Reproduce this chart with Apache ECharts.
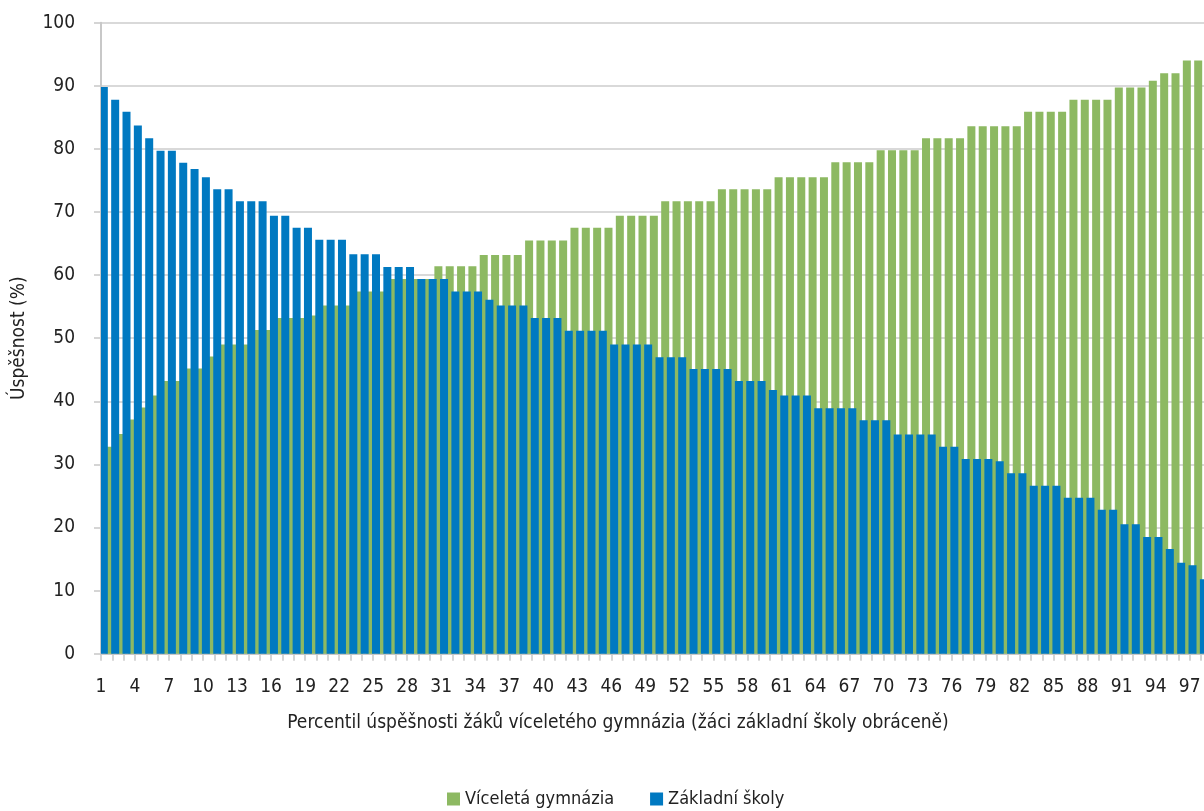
<!DOCTYPE html>
<html>
<head>
<meta charset="utf-8">
<script src="https://cdn.jsdelivr.net/npm/echarts@6/dist/echarts.min.js"></script>
<style>
html,body{margin:0;padding:0;background:#fff;}
#chart{width:1204px;height:811px;}
</style>
</head>
<body>
<div id="chart"></div>
<script>
// Percentile categories (1..99)
const percentiles = ['1','2','3','4','5','6','7','8','9','10','11','12','13','14','15','16','17','18','19','20','21','22','23','24','25','26','27','28','29','30','31','32','33','34','35','36','37','38','39','40','41','42','43','44','45','46','47','48','49','50','51','52','53','54','55','56','57','58','59','60','61','62','63','64','65','66','67','68','69','70','71','72','73','74','75','76','77','78','79','80','81','82','83','84','85','86','87','88','89','90','91','92','93','94','95','96','97','98','99'];
// Tick labels at category boundaries
const tickLabels = ['1','2','3','4','5','6','7','8','9','10','11','12','13','14','15','16','17','18','19','20','21','22','23','24','25','26','27','28','29','30','31','32','33','34','35','36','37','38','39','40','41','42','43','44','45','46','47','48','49','50','51','52','53','54','55','56','57','58','59','60','61','62','63','64','65','66','67','68','69','70','71','72','73','74','75','76','77','78','79','80','81','82','83','84','85','86','87','88','89','90','91','92','93','94','95','96','97','98','99','100'];

const seriesNames = ['Víceletá gymnázia', 'Základní školy'];

const gymnazia = [32.8,34.8,37.1,39.0,40.9,43.2,43.2,45.2,45.2,47.1,
  49.0,49.0,49.0,51.3,51.3,53.2,53.2,53.2,53.6,55.2,
  55.2,55.2,57.4,57.4,57.4,59.4,59.4,59.4,59.4,61.4,
  61.4,61.4,61.4,63.2,63.2,63.2,63.2,65.5,65.5,65.5,
  65.5,67.5,67.5,67.5,67.5,69.4,69.4,69.4,69.4,71.7,
  71.7,71.7,71.7,71.7,73.6,73.6,73.6,73.6,73.6,75.5,
  75.5,75.5,75.5,75.5,77.9,77.9,77.9,77.9,79.8,79.8,
  79.8,79.8,81.7,81.7,81.7,81.7,83.6,83.6,83.6,83.6,
  83.6,85.9,85.9,85.9,85.9,87.8,87.8,87.8,87.8,89.75,
  89.75,89.75,90.8,92.0,92.0,94.0,94.0,94.0,96.0];

const zakladni = [89.8,87.8,85.9,83.7,81.7,79.7,79.7,77.8,76.8,75.5,
  73.6,73.6,71.7,71.7,71.7,69.4,69.4,67.5,67.5,65.6,
  65.6,65.6,63.3,63.3,63.3,61.3,61.3,61.3,59.4,59.4,
  59.4,57.4,57.4,57.4,56.1,55.2,55.2,55.2,53.2,53.2,
  53.2,51.2,51.2,51.2,51.2,49.0,49.0,49.0,49.0,47.0,
  47.0,47.0,45.1,45.1,45.1,45.1,43.2,43.2,43.2,41.8,
  40.9,40.9,40.9,38.9,38.9,38.9,38.9,37.0,37.0,37.0,
  34.75,34.75,34.75,34.75,32.8,32.8,30.85,30.85,30.85,30.5,
  28.6,28.6,26.6,26.6,26.6,24.7,24.7,24.7,22.8,22.8,
  20.5,20.5,18.5,18.5,16.6,14.4,14.0,11.8,9.6];

const yTicks = {min: 0, max: 100, interval: 10};

const FONT = "'Liberation Sans Narrow', 'DejaVu Sans Condensed', 'Roboto Condensed', 'Liberation Sans', sans-serif";
const GREEN = '#8DB962';
const BLUE = '#0079C1';

const chart = echarts.init(document.getElementById('chart'), null, {renderer: 'canvas'});
const gridLeft = 101, gridTop = 22.7, gridHeight = 631, gridWidth = 1122.7;
chart.setOption({
  animation: false,
  backgroundColor: '#ffffff',
  textStyle: {fontFamily: FONT},
  grid: {left: gridLeft, top: gridTop, width: gridWidth, height: gridHeight, containLabel: false, outerBoundsMode: 'none'},
  legend: {
    data: seriesNames,
    left: 447, top: 790, padding: 0,
    itemWidth: 13, itemHeight: 13, itemGap: 36,
    icon: 'rect',
    textStyle: {fontFamily: FONT, fontSize: 18, color: '#222'}
  },
  xAxis: [
    {
      type: 'category', data: percentiles, position: 'bottom',
      boundaryGap: true, show: false
    },
    {
      type: 'category', data: tickLabels, position: 'bottom',
      boundaryGap: false,
      axisLine: {show: true, lineStyle: {color: '#C8C8C8', width: 2}},
      axisTick: {show: true, interval: 0, length: 7, lineStyle: {color: '#C8C8C8', width: 1.5}},
      axisLabel: {interval: 2, margin: 24, fontSize: 19, color: '#222', fontFamily: FONT},
      splitLine: {show: false}
    }
  ],
  yAxis: {
    type: 'value', min: yTicks.min, max: yTicks.max, interval: yTicks.interval,
    name: 'Úspěšnost (%)', nameLocation: 'middle', nameRotate: 90, nameGap: 72,
    nameTextStyle: {fontSize: 19, color: '#222', fontFamily: FONT},
    axisLine: {show: true, lineStyle: {color: '#C8C8C8', width: 2}},
    axisTick: {show: true, length: 7, lineStyle: {color: '#C8C8C8', width: 1.5}},
    axisLabel: {margin: 26, fontSize: 19, color: '#222', fontFamily: FONT},
    splitLine: {show: true, lineStyle: {color: '#D9D9D9', width: 2}}
  },
  graphic: [{
    type: 'text',
    style: {
      x: 618, y: 723,
      text: 'Percentil úspěšnosti žáků víceletého gymnázia (žáci základní školy obráceně)',
      textAlign: 'center', textVerticalAlign: 'middle',
      font: "19px " + FONT, fill: '#222'
    }
  }],
  series: [
    {
      name: seriesNames[1], type: 'bar', xAxisIndex: 0, data: zakladni,
      barWidth: 8, barGap: '-29%', z: 3,
      itemStyle: {color: BLUE}
    },
    {
      name: seriesNames[0], type: 'bar', xAxisIndex: 0, data: gymnazia,
      barWidth: 8, barGap: '-29%', z: 2,
      itemStyle: {color: GREEN}
    }
  ]
});
</script>
</body>
</html>
